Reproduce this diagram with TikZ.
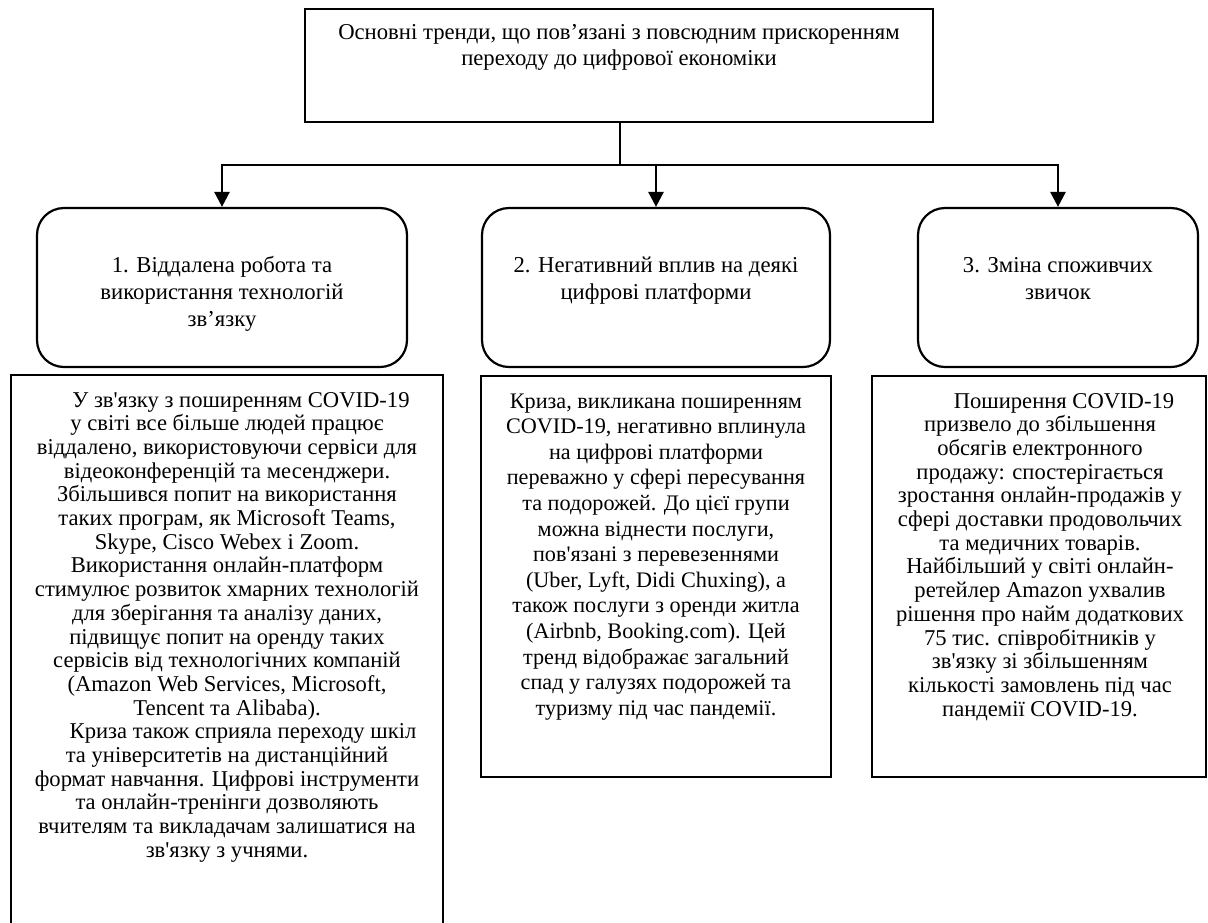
\documentclass[tikz,border=0pt]{standalone}
\usepackage{fontspec}
\setmainfont{Liberation Serif}[Ligatures=TeXOff]
\usetikzlibrary{arrows.meta}
\begin{document}
\begin{tikzpicture}[x=1pt,y=-1pt,
  boxline/.style={draw=black,line width=2.2pt},
  topbox/.style={boxline,rectangle,inner sep=0pt},
  roundbox/.style={boxline,rectangle,rounded corners=27pt,inner sep=0pt},
  txt/.style={align=center,inner sep=0pt,anchor=base},
  toptxt/.style={txt,font=\fontsize{22.7}{26}\selectfont},
  midtxt/.style={txt,font=\fontsize{22.7}{27}\selectfont},
  lowtxt/.style={txt,font=\fontsize{22.6}{23.7}\selectfont},
  lowtxtb/.style={txt,font=\fontsize{22.2}{25.6}\selectfont},
  conn/.style={line width=2.6pt},
  arr/.style={conn,-{Triangle[width=15pt,length=15pt]}}
]
\useasboundingbox (0,0) rectangle (1208,922);

% top box
\node[topbox,minimum width=628pt,minimum height=113pt] (top) at (619,65.5) {};
\node[toptxt] (toptext) at (619,65) {Основні тренди, що пов’язані з повсюдним прискоренням\\переходу до цифрової економіки};

% rounded boxes
\node[roundbox,minimum width=370pt,minimum height=159pt] (r1) at (222,287.5) {};
\node[roundbox,minimum width=348pt,minimum height=159pt] (r2) at (656,287.5) {};
\node[roundbox,minimum width=280pt,minimum height=159pt] (r3) at (1058,287.5) {};
\node[midtxt] (t1) at (222,326) {1. Віддалена робота та\\використання технологій\\зв’язку};
\node[midtxt] (t2) at (656,299) {2. Негативний вплив на деякі\\цифрові платформи};
\node[midtxt] (t3) at (1058,299) {3. Зміна споживчих\\звичок};

% connectors
\coordinate (hub) at (620,165);
\draw[conn] (top.south -| hub) -- (hub);
\draw[arr] (hub) -| (r1.north);
\draw[arr] (hub) -| (r2.north);
\draw[arr] (hub) -| (r3.north);

% lower boxes
\coordinate (l1a) at (11,926);
\coordinate (l1b) at (11,375);
\coordinate (l1c) at (443,375);
\coordinate (l1d) at (443,926);
\draw[boxline] (l1a) -- (l1b) -- (l1c) -- (l1d);
\node[topbox,minimum width=350pt,minimum height=401pt] (l2) at (656,576.5) {};
\node[topbox,minimum width=334pt,minimum height=401pt] (l3) at (1039,576.5) {};

\node[lowtxt] (d1) at (227,857.3) {\hspace*{28pt}У зв'язку з поширенням COVID-19\\
у світі все більше людей працює\\
віддалено, використовуючи сервіси для\\
відеоконференцій та месенджери.\\
Збільшився попит на використання\\
таких програм, як Microsoft Teams,\\
Skype, Cisco Webex і Zoom.\\
Використання онлайн-платформ\\
стимулює розвиток хмарних технологій\\
для зберігання та аналізу даних,\\
підвищує попит на оренду таких\\
сервісів від технологічних компаній\\
(Amazon Web Services, Microsoft,\\
Tencent та Alibaba).\\
\hspace*{32pt}Криза також сприяла переходу шкіл\\
та університетів на дистанційний\\
формат навчання. Цифрові інструменти\\
та онлайн-тренінги дозволяють\\
вчителям та викладачам залишатися на\\
зв'язку з учнями.};

\node[lowtxtb] (d2) at (656,715.2) {Криза, викликана поширенням\\
COVID-19, негативно вплинула\\
на цифрові платформи\\
переважно у сфері пересування\\
та подорожей. До цієї групи\\
можна віднести послуги,\\
пов'язані з перевезеннями\\
(Uber, Lyft, Didi Chuxing), а\\
також послуги з оренди житла\\
(Airbnb, Booking.com). Цей\\
тренд відображає загальний\\
спад у галузях подорожей та\\
туризму під час пандемії.};

\node[lowtxt] (d3) at (1040,716.1) {\hspace*{48pt}Поширення COVID-19\\
призвело до збільшення\\
обсягів електронного\\
продажу: спостерігається\\
зростання онлайн-продажів у\\
сфері доставки продовольчих\\
та медичних товарів.\\
Найбільший у світі онлайн-\\
ретейлер Amazon ухвалив\\
рішення про найм додаткових\\
75 тис. співробітників у\\
зв'язку зі збільшенням\\
кількості замовлень під час\\
пандемії COVID-19.};
\end{tikzpicture}
\end{document}
